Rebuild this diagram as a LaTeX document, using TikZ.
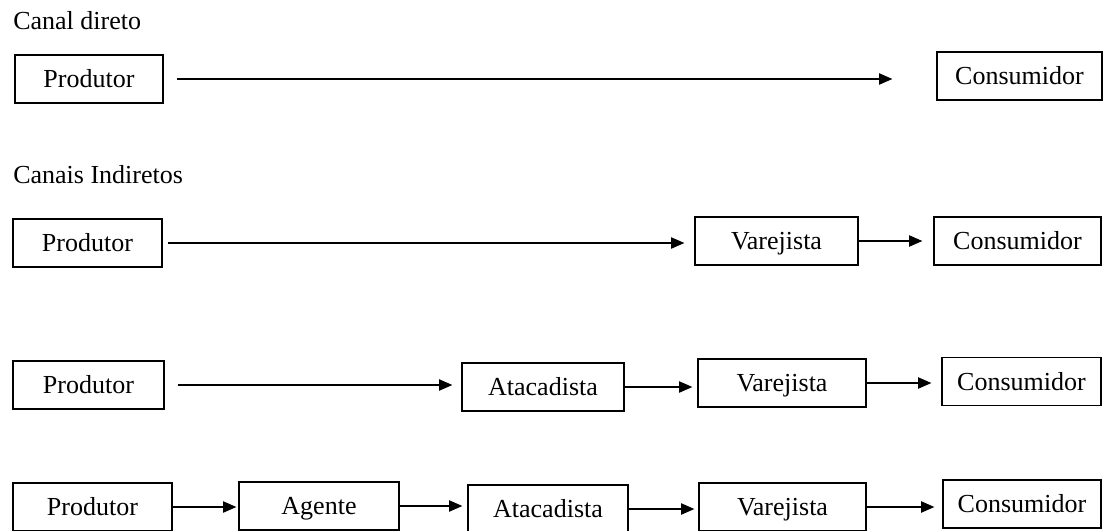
\documentclass[tikz,border=0pt]{standalone}
\usepackage{fontspec}
\setmainfont{Liberation Serif}
\usepackage{tikz}
\usetikzlibrary{calc,arrows.meta}
\tikzset{caixa/.style={draw=black,line width=0.9pt,inner sep=0pt,minimum height=1.2cm,text height=12.3pt,text depth=0pt,font=\fontsize{18.5}{22}\selectfont},
seta/.style={line width=0.9pt,-{Triangle[length=0.33cm,width=0.28cm]}},
titulo/.style={anchor=base west,inner sep=0pt,font=\fontsize{18.5}{22}\selectfont}}

\begin{document}
\begin{tikzpicture}
\useasboundingbox (0,0) rectangle (27.575,-13.25);
\node[titulo] (t1) at (0.325,-0.725) {Canal direto};
\node[caixa,minimum width=3.7cm] (p1) at (2.225,-1.975) {Produtor};
\node[caixa,minimum width=4.125cm] (c1) at (25.4875,-1.9) {Consumidor};
\draw[seta,shorten <=0.325cm,shorten >=1.1cm] (p1.east) -- (p1.east -| c1.west);
\node[titulo] (t2) at (0.325,-4.575) {Canais Indiretos};
% segundo canal
\node[caixa,minimum width=3.725cm] (p2) at (2.1875,-6.075) {Produtor};
\node[caixa,minimum width=4.075cm] (v2) at (19.4125,-6.025) {Varejista};
\node[caixa,minimum width=4.175cm] (c2) at (25.4375,-6.025) {Consumidor};
\draw[seta,shorten <=0.125cm,shorten >=0.25cm] (p2.east) -- (p2.east -| v2.west);
\draw[seta,shorten >=0.275cm] (v2.east) -- (v2.east -| c2.west);
% terceiro canal
\node[caixa,minimum width=3.775cm] (p3) at (2.2125,-9.625) {Produtor};
\node[caixa,minimum width=4.05cm] (a3) at (13.575,-9.675) {Atacadista};
\node[caixa,minimum width=4.2cm] (v3) at (19.55,-9.575) {Varejista};
\node[caixa,minimum width=3.975cm] (c3) at (25.5375,-9.5375) {Consumidor};
\draw[seta,shorten <=0.325cm,shorten >=0.225cm] (p3.east) -- (p3.east -| a3.west);
\draw[seta,shorten >=0.125cm] (a3.east) -- (a3.east -| v3.west);
\draw[seta,shorten >=0.25cm] (v3.east) -- (v3.east -| c3.west);
% quarto canal
\node[caixa,minimum width=3.975cm] (p4) at (2.3125,-12.675) {Produtor};
\node[caixa,minimum width=4cm] (g4) at (7.975,-12.65) {Agente};
\node[caixa,minimum width=4cm] (a4) at (13.7,-12.725) {Atacadista};
\node[caixa,minimum width=4.175cm] (v4) at (19.5625,-12.675) {Varejista};
\node[caixa,minimum width=3.95cm] (c4) at (25.55,-12.6) {Consumidor};
\draw[seta,shorten >=0.05cm] (p4.east) -- (p4.east -| g4.west);
\draw[seta,shorten >=0.125cm] (g4.east) -- (g4.east -| a4.west);
\draw[seta,shorten >=0.1cm] (a4.east) -- (a4.east -| v4.west);
\draw[seta,shorten >=0.2cm] (v4.east) -- (v4.east -| c4.west);
\end{tikzpicture}
\end{document}
